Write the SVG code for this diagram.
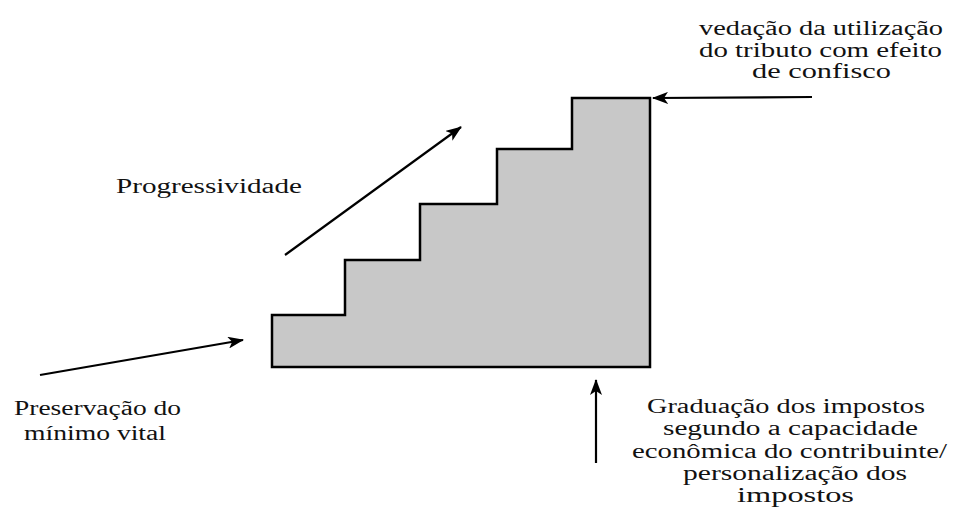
<svg xmlns="http://www.w3.org/2000/svg" width="955" height="511" viewBox="0 0 955 511">
<defs>
<style>
.t{font-family:"Liberation Serif","Times New Roman",Times,serif;font-size:20px;fill:#111;}
.c{stroke:#000;stroke-width:2.2;fill:none;}
</style>
<marker id="ah" viewBox="0 0 16 12" refX="15" refY="6" markerWidth="16" markerHeight="12" markerUnits="userSpaceOnUse" orient="auto">
<path d="M0,0 L16,6 L0,12 L4,6 Z" fill="#000"/>
</marker>
</defs>
<rect width="955" height="511" fill="#fff"/>
<g id="staircase">
<path d="M272,367 L272,315 L345,315 L345,260 L420,260 L420,204 L497,204 L497,149 L572,149 L572,98 L650,98 L650,367 Z" fill="#c8c8c8" stroke="#000" stroke-width="2.5" stroke-linejoin="miter"/>
</g>
<g id="connectors">
<line class="c" x1="285" y1="255" x2="461" y2="127" marker-end="url(#ah)"/>
<line class="c" x1="40" y1="375" x2="243" y2="340" marker-end="url(#ah)"/>
<line class="c" x1="812" y1="97" x2="653" y2="98" marker-end="url(#ah)"/>
<line class="c" x1="596" y1="463" x2="596" y2="380" marker-end="url(#ah)"/>
</g>
<g id="progressividade">
<text class="t" x="116" y="193" textLength="186" lengthAdjust="spacingAndGlyphs">Progressividade</text>
</g>
<g id="preservacao">
<text class="t" x="14" y="415" textLength="167" lengthAdjust="spacingAndGlyphs">Preservação do</text>
<text class="t" x="24" y="440" textLength="142" lengthAdjust="spacingAndGlyphs">mínimo vital</text>
</g>
<g id="vedacao">
<text class="t" x="699" y="35" textLength="244" lengthAdjust="spacingAndGlyphs">vedação da utilização</text>
<text class="t" x="699" y="57" textLength="243" lengthAdjust="spacingAndGlyphs">do tributo com efeito</text>
<text class="t" x="752" y="78" textLength="139" lengthAdjust="spacingAndGlyphs">de confisco</text>
</g>
<g id="graduacao">
<text class="t" x="647" y="413" textLength="278" lengthAdjust="spacingAndGlyphs">Graduação dos impostos</text>
<text class="t" x="663" y="435" textLength="255" lengthAdjust="spacingAndGlyphs">segundo a capacidade</text>
<text class="t" x="632" y="458" textLength="315" lengthAdjust="spacingAndGlyphs">econômica do contribuinte/</text>
<text class="t" x="683" y="480" textLength="224" lengthAdjust="spacingAndGlyphs">personalização dos</text>
<text class="t" x="737" y="502" textLength="117" lengthAdjust="spacingAndGlyphs">impostos</text>
</g>
</svg>
